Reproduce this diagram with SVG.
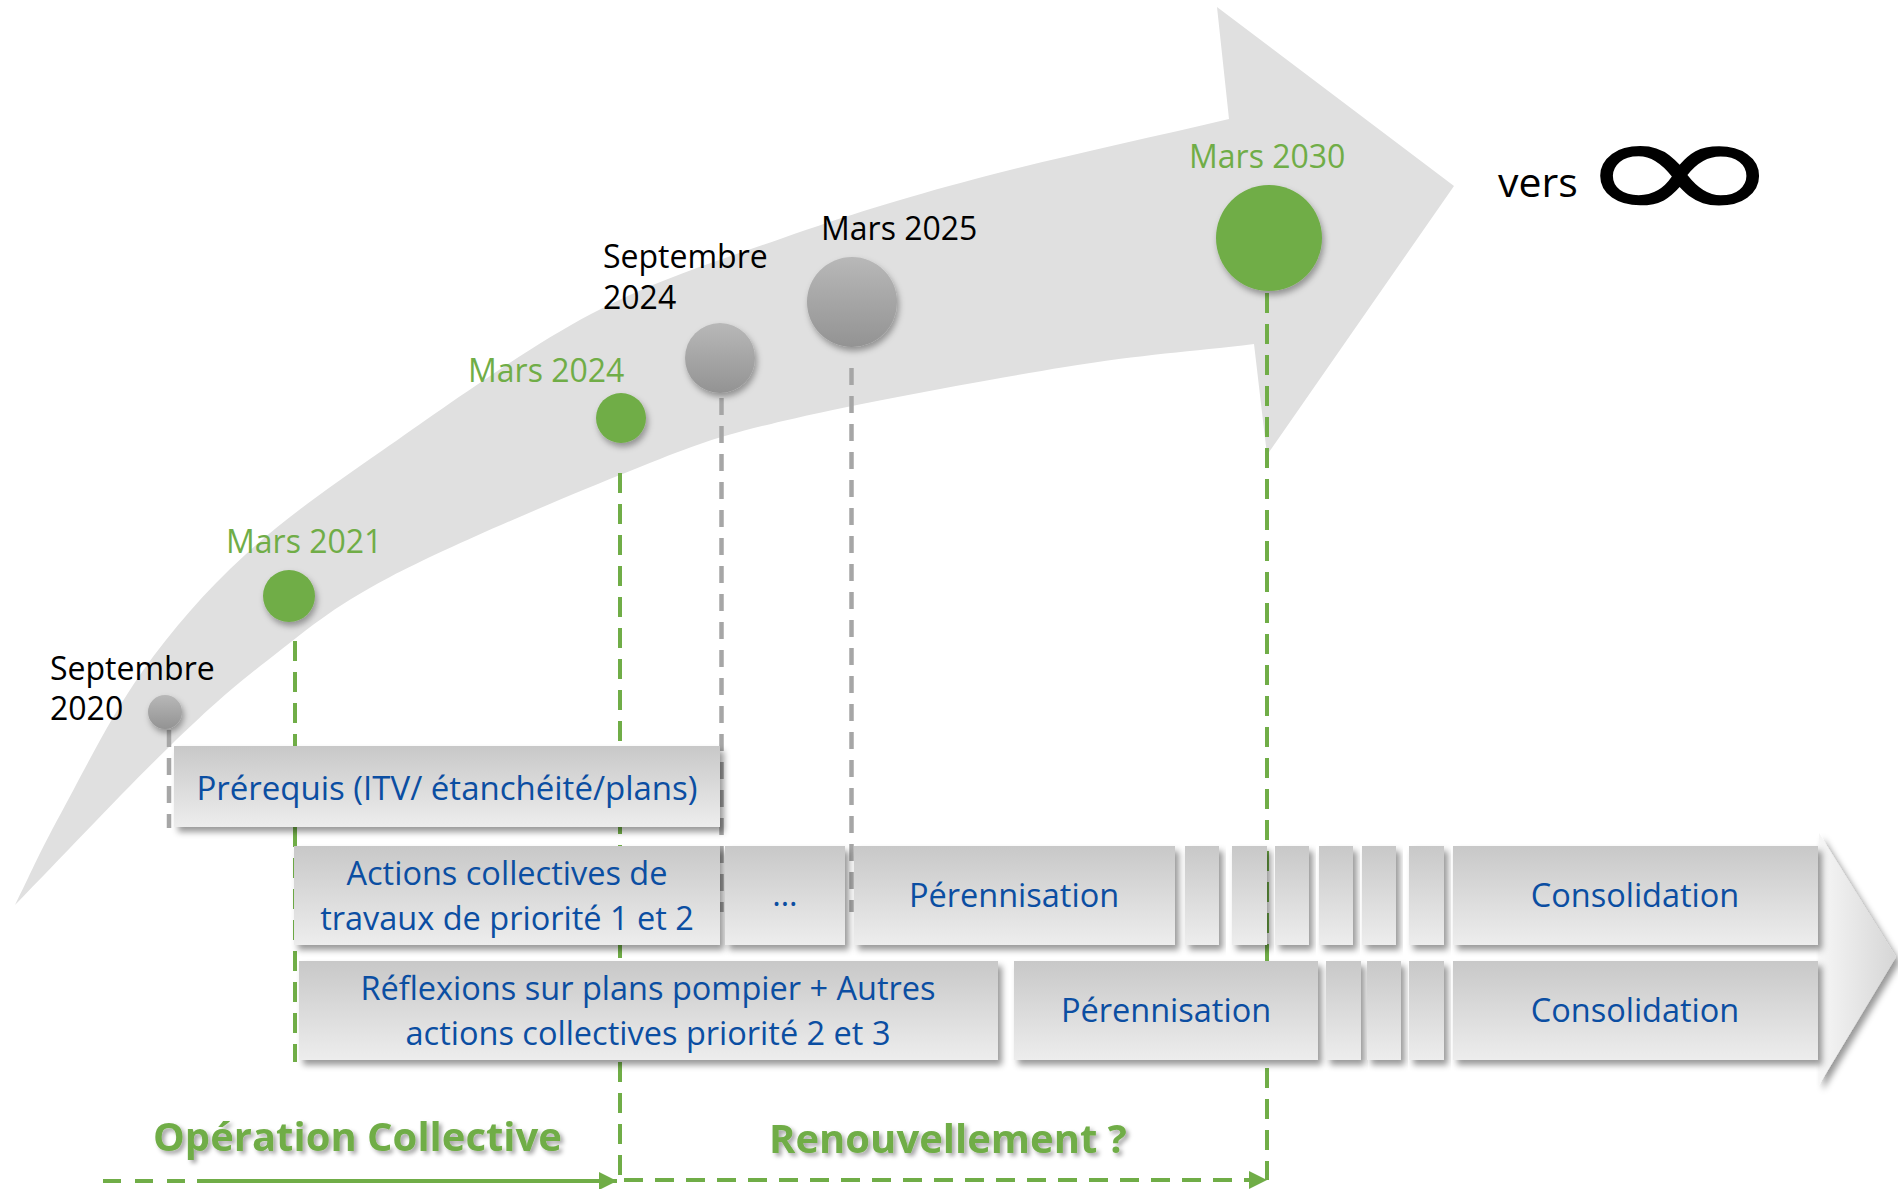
<svg xmlns="http://www.w3.org/2000/svg" width="1898" height="1189" viewBox="0 0 1898 1189">
<style>
.lbl{font-family:"Open Sans","Liberation Sans",sans-serif;font-size:32px;}
.blk{fill:#000000;}
.grn{fill:#70AD47;}
.box{fill:url(#boxg);filter:url(#sh);}
.bt{font-family:"Open Sans","Liberation Sans",sans-serif;font-size:32.5px;fill:#0B4EA2;text-anchor:middle;}
.big{font-family:"Open Sans","Liberation Sans",sans-serif;font-size:40px;font-weight:bold;fill:#70AD47;filter:url(#tsh);}
.gd{stroke:#70AD47;stroke-width:4;fill:none;stroke-dasharray:20 11;}
.gy{stroke:#A6A6A6;stroke-width:4.5;fill:none;stroke-dasharray:17 11;}
.gc{fill:#70AD47;filter:url(#csh);}
.yc{fill:url(#cg);filter:url(#csh);}
</style>
<defs>
<linearGradient id="boxg" x1="0" y1="0" x2="0" y2="1">
<stop offset="0" stop-color="#C8C8C8"/><stop offset="1" stop-color="#EDEDED"/>
</linearGradient>
<linearGradient id="cg" x1="0" y1="0" x2="0" y2="1">
<stop offset="0" stop-color="#B8B8B8"/><stop offset="1" stop-color="#939393"/>
</linearGradient>
<linearGradient id="chev" x1="0" y1="0" x2="1" y2="0">
<stop offset="0" stop-color="#F6F6F6"/><stop offset="1" stop-color="#D6D6D6"/>
</linearGradient>
<filter id="sh" x="-10%" y="-20%" width="130%" height="150%">
<feDropShadow dx="4" dy="5" stdDeviation="3" flood-color="#000" flood-opacity="0.4"/>
</filter>
<filter id="csh" x="-30%" y="-30%" width="160%" height="170%">
<feDropShadow dx="2" dy="4" stdDeviation="3" flood-color="#000" flood-opacity="0.35"/>
</filter>
<filter id="tsh" x="-5%" y="-20%" width="115%" height="160%">
<feDropShadow dx="3" dy="3" stdDeviation="2" flood-color="#000" flood-opacity="0.35"/>
</filter>
<marker id="ah" viewBox="0 0 10 10" refX="10" refY="5" markerWidth="4.5" markerHeight="4.5" orient="auto" markerUnits="strokeWidth">
<path d="M0,0 L10,5 L0,10 Z" fill="#70AD47"/>
</marker>
</defs>
<rect width="1898" height="1189" fill="#FFFFFF"/>

<g id="big-arrow">
<path fill="#E0E0E0" d="M15,905 C30,875 38.8,853.8 60,815 C81.2,776.2 111.2,715.3 142,672 C172.8,628.7 204.8,592 245,555 C285.2,518 325.3,490.2 383,450 C440.7,409.8 524.3,349.3 591,314 C657.7,278.7 719,260.5 783,238 C847,215.5 900.7,198.8 975,179 C1049.3,159.2 1144.3,139 1229,119 L1217,7 L1454,186 L1267,455 L1254,344 C1191,351.7 1143.5,354.2 1065,367 C986.5,379.8 855.5,403.7 783,421 C710.5,438.3 695.5,445 630,471 C564.5,497 450.3,545.5 390,577 C329.7,608.5 305,631.5 268,660 C231,688.5 210.2,707.2 168,748 C125.8,788.8 66,852.7 15,905 Z"/>
</g>

<g id="connectors">
<line class="gy" x1="169" y1="730" x2="169" y2="828"/>
<line class="gd" x1="295" y1="641" x2="295" y2="1062"/>
<line class="gd" x1="620" y1="473" x2="620" y2="1180"/>
<line class="gy" x1="721.5" y1="398" x2="721.5" y2="912"/>
<line class="gy" x1="851.5" y1="368" x2="851.5" y2="912"/>
<line class="gd" x1="1267" y1="293" x2="1267" y2="1180"/>
<line stroke="#70AD47" stroke-width="4" stroke-dasharray="18 14" x1="103" y1="1181" x2="200" y2="1181"/>
<line stroke="#70AD47" stroke-width="4" x1="197" y1="1181" x2="617" y2="1181" marker-end="url(#ah)"/>
<line stroke="#70AD47" stroke-width="4" stroke-dasharray="19 12" x1="624" y1="1180" x2="1267" y2="1180" marker-end="url(#ah)"/>
</g>

<g id="chevron">
<polygon points="1819,833 1896,957 1819,1085" fill="url(#chev)" filter="url(#sh)"/>
</g>

<g id="n-prerequis">
<rect class="box" x="174" y="746" width="546" height="81"/>
<text class="bt" x="447" y="800" style="font-size:33px">Prérequis (ITV/ étanchéité/plans)</text>
</g>
<g id="n-actions">
<rect class="box" x="294" y="846" width="426" height="99"/>
<text class="bt" x="507" y="885">Actions collectives de</text>
<text class="bt" x="507" y="930">travaux de priorité 1 et 2</text>
</g>
<g id="n-ellipsis">
<rect class="box" x="725" y="846" width="120" height="99"/>
<text class="bt" x="785" y="906">…</text>
</g>
<g id="n-perennisation-1">
<rect class="box" x="854" y="846" width="321" height="99"/>
<text class="bt" x="1014" y="907">Pérennisation</text>
</g>
<g id="n-steps-1">
<rect class="box" x="1185" y="846" width="34" height="99"/>
<rect class="box" x="1232" y="846" width="35" height="99"/>
<rect class="box" x="1275" y="846" width="34" height="99"/>
<rect class="box" x="1319" y="846" width="34" height="99"/>
<rect class="box" x="1362" y="846" width="34" height="99"/>
<rect class="box" x="1409" y="846" width="35" height="99"/>
</g>
<g id="n-consolidation-1">
<rect class="box" x="1453" y="846" width="365" height="99"/>
<text class="bt" x="1635" y="907">Consolidation</text>
</g>
<g id="n-reflexions">
<rect class="box" x="299" y="961" width="699" height="99"/>
<text class="bt" x="648" y="1000">Réflexions sur plans pompier + Autres</text>
<text class="bt" x="648" y="1045">actions collectives priorité 2 et 3</text>
</g>
<g id="n-perennisation-2">
<rect class="box" x="1014" y="961" width="304" height="99"/>
<text class="bt" x="1166" y="1022">Pérennisation</text>
</g>
<g id="n-steps-2">
<rect class="box" x="1326" y="961" width="35" height="99"/>
<rect class="box" x="1367" y="961" width="34" height="99"/>
<rect class="box" x="1409" y="961" width="35" height="99"/>
</g>
<g id="n-consolidation-2">
<rect class="box" x="1453" y="961" width="365" height="99"/>
<text class="bt" x="1635" y="1022">Consolidation</text>
</g>

<g id="m-sep2020">
<circle class="yc" cx="165" cy="712" r="17"/>
<text class="lbl blk" x="50" y="680">Septembre</text>
<text class="lbl blk" x="50" y="720">2020</text>
</g>
<g id="m-mars2021">
<circle class="gc" cx="289" cy="596" r="26"/>
<text class="lbl grn" x="226" y="553">Mars 2021</text>
</g>
<g id="m-mars2024">
<circle class="gc" cx="621" cy="418" r="25"/>
<text class="lbl grn" x="468" y="382">Mars 2024</text>
</g>
<g id="m-sep2024">
<circle class="yc" cx="720" cy="358" r="35"/>
<text class="lbl blk" x="603" y="268">Septembre</text>
<text class="lbl blk" x="603" y="309">2024</text>
</g>
<g id="m-mars2025">
<circle class="yc" cx="852" cy="302" r="45"/>
<text class="lbl blk" x="821" y="240">Mars 2025</text>
</g>
<g id="m-mars2030">
<circle class="gc" cx="1269" cy="238" r="53"/>
<text class="lbl grn" x="1189" y="168">Mars 2030</text>
</g>
<g id="vers-infini">
<text x="1498" y="197" font-family="Open Sans, Liberation Sans, sans-serif" font-size="41" fill="#000">vers</text>
<text transform="translate(1572.6,223.3) scale(1.285,0.793)" x="0" y="0" font-family="DejaVu Sans, sans-serif" font-size="200" fill="#000">∞</text>
</g>

<g id="phases">
<text class="big" x="153" y="1151">Opération Collective</text>
<text class="big" x="769" y="1153">Renouvellement ?</text>
</g>
</svg>
